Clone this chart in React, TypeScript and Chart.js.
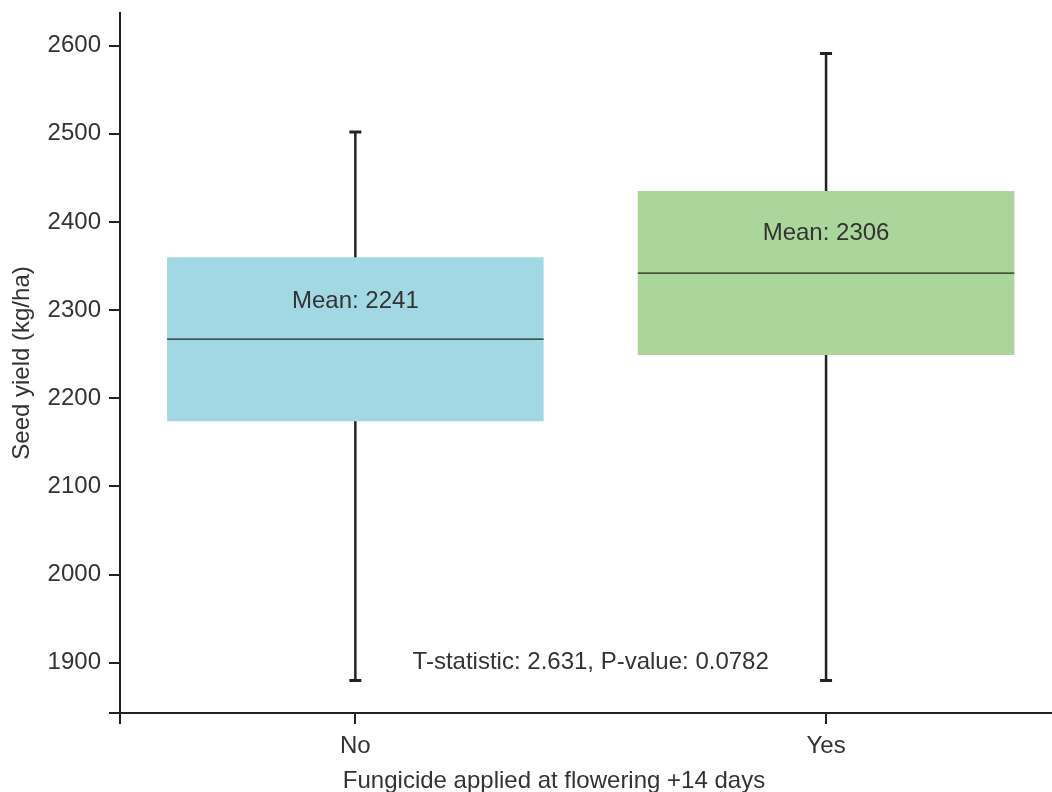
import React, { useEffect, useRef } from 'react';
import { Chart, registerables } from 'chart.js';

Chart.register(...registerables);

// ---- data ----
const categories = ['No', 'Yes'];
const q1 = [2174, 2249];
const q3 = [2360, 2435];
const medians = [2267, 2342];
const whiskerLow = [1880, 1880];
const whiskerHigh = [2502, 2591];
const means = [2241, 2306];
const meanLabelY = [2310, 2387];
const boxColors = ['#a2d8e4', '#aad69c'];
const yTicks = [1900, 2000, 2100, 2200, 2300, 2400, 2500, 2600];
const yMin = 1843;
const yMax = 2637;
const xMin = -0.5;
const xMax = 1.48;
const statText = 'T-statistic: 2.631, P-value: 0.0782';
const statX = 0.5;
const statY = 1900;
const xTitle = 'Fungicide applied at flowering +14 days';
const yTitle = 'Seed yield (kg/ha)';

const FONT_FAMILY = '"Liberation Sans", Arial, sans-serif';
const FONT_SIZE = 24;
const TEXT = '#333333';
const AXIS = '#222222';

const boxPlugin = {
  id: 'boxExtras',
  beforeDatasetsDraw(chart: any) {
    const { ctx, scales } = chart;
    const x = scales.x;
    const y = scales.y;
    ctx.save();
    ctx.strokeStyle = AXIS;
    ctx.lineCap = 'butt';
    categories.forEach((_, i) => {
      const px = x.getPixelForValue(i);
      const lo = y.getPixelForValue(whiskerLow[i]);
      const hi = y.getPixelForValue(whiskerHigh[i]);
      ctx.lineWidth = 2.5;
      ctx.beginPath();
      ctx.moveTo(px, lo);
      ctx.lineTo(px, hi);
      ctx.stroke();
      ctx.lineWidth = 3;
      ctx.beginPath();
      ctx.moveTo(px - 6, lo);
      ctx.lineTo(px + 6, lo);
      ctx.moveTo(px - 6, hi);
      ctx.lineTo(px + 6, hi);
      ctx.stroke();
    });
    ctx.restore();
  },
  afterDatasetsDraw(chart: any) {
    const { ctx, scales } = chart;
    const x = scales.x;
    const y = scales.y;
    const meta = chart.getDatasetMeta(0);
    ctx.save();
    ctx.strokeStyle = AXIS;
    ctx.lineWidth = 1.3;
    categories.forEach((_, i) => {
      const bar = meta.data[i];
      const { x: bx, width } = bar.getProps(['x', 'width'], true);
      const my = y.getPixelForValue(medians[i]);
      ctx.beginPath();
      ctx.moveTo(bx - width / 2, my);
      ctx.lineTo(bx + width / 2, my);
      ctx.stroke();
    });
    ctx.fillStyle = TEXT;
    ctx.font = `${FONT_SIZE}px ${FONT_FAMILY}`;
    ctx.textAlign = 'center';
    ctx.textBaseline = 'middle';
    categories.forEach((_, i) => {
      ctx.fillText(`Mean: ${means[i]}`, x.getPixelForValue(i), y.getPixelForValue(meanLabelY[i]));
    });
    ctx.fillText(statText, x.getPixelForValue(statX), y.getPixelForValue(statY));
    ctx.restore();
  },
  afterDraw(chart: any) {
    const { ctx } = chart;
    ctx.save();
    ctx.fillStyle = TEXT;
    ctx.font = `${FONT_SIZE}px ${FONT_FAMILY}`;
    ctx.textAlign = 'center';
    ctx.textBaseline = 'alphabetic';
    ctx.fillText(xTitle, 554, 788);
    ctx.restore();
  },
};

export default function App() {
  const canvasRef = useRef<HTMLCanvasElement | null>(null);

  useEffect(() => {
    if (!canvasRef.current) return;
    const chart = new Chart(canvasRef.current, {
      type: 'bar',
      data: {
        datasets: [
          {
            data: categories.map((_, i) => ({ x: i, y: [q1[i], q3[i]] })) as any,
            backgroundColor: boxColors,
            borderWidth: 0,
            categoryPercentage: 1,
            // bar ruler uses the min tick spacing (0.5 units), so 1.6 × 0.5 = 0.8 units wide
            barPercentage: 1.6,
          },
        ],
      },
      options: {
        animation: false,
        responsive: true,
        maintainAspectRatio: false,
        layout: { padding: { top: 13, left: 0, right: 0, bottom: 0 } },
        plugins: {
          legend: { display: false },
          tooltip: { enabled: false },
          title: { display: false },
        },
        scales: {
          x: {
            type: 'linear',
            offset: false,
            min: xMin,
            max: xMax,
            afterBuildTicks: (scale: any) => {
              scale.ticks = [xMin, 0, 1].map((v) => ({ value: v }));
            },
            afterFit: (scale: any) => {
              scale.height = 79;
              scale.paddingLeft = 0;
              scale.paddingRight = 0;
            },
            ticks: {
              autoSkip: false,
              maxRotation: 0,
              padding: 8,
              color: TEXT,
              font: { family: FONT_FAMILY, size: FONT_SIZE },
              callback: (v: any) => (v === 0 ? categories[0] : v === 1 ? categories[1] : ''),
            },
            grid: {
              display: true,
              offset: false,
              drawOnChartArea: false,
              drawTicks: true,
              tickLength: 11,
              color: AXIS,
              lineWidth: 2,
            },
            border: { display: true, color: AXIS, width: 2 },
            title: { display: false },
          },
          y: {
            type: 'linear',
            min: yMin,
            max: yMax,
            afterBuildTicks: (scale: any) => {
              scale.ticks = [yMin, ...yTicks].map((v) => ({ value: v }));
            },
            afterFit: (scale: any) => {
              scale.width = 120;
              scale.paddingTop = 0;
              scale.paddingBottom = 0;
            },
            ticks: {
              autoSkip: false,
              padding: 8,
              color: TEXT,
              font: { family: FONT_FAMILY, size: FONT_SIZE },
              callback: (v: any) => (yTicks.includes(v) ? String(v) : ''),
            },
            grid: {
              display: true,
              drawOnChartArea: false,
              drawTicks: true,
              tickLength: 11,
              color: AXIS,
              lineWidth: 2,
            },
            border: { display: true, color: AXIS, width: 2 },
            title: {
              display: true,
              text: yTitle,
              color: TEXT,
              font: { family: FONT_FAMILY, size: FONT_SIZE, lineHeight: 1 },
              padding: { top: 10, bottom: 0 },
            },
          },
        },
      },
      plugins: [boxPlugin],
    });
    return () => chart.destroy();
  }, []);

  return (
    <div style={{ position: 'fixed', left: 0, top: 0, width: 1052, height: 792, background: '#fff' }}>
      <canvas ref={canvasRef} />
    </div>
  );
}
